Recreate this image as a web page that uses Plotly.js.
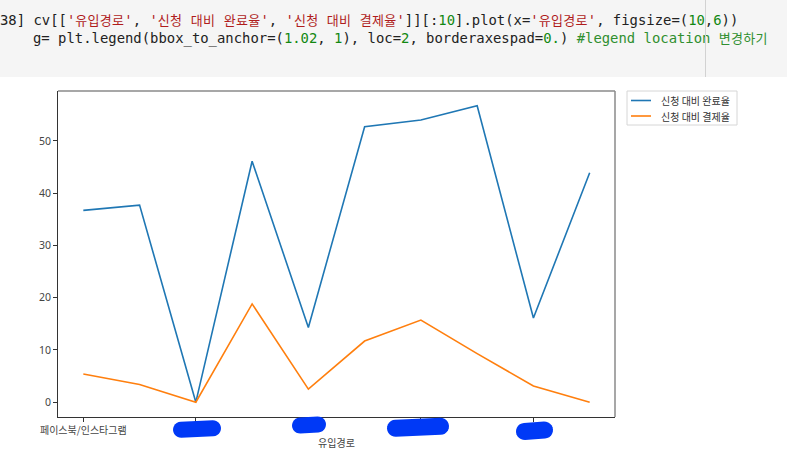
<!DOCTYPE html>
<html>
<head>
<meta charset="utf-8">
<script src="https://cdn.plot.ly/plotly-3.0.1.min.js"></script>
<style>
  html, body { margin: 0; padding: 0; background: #fff; width: 787px; height: 466px; overflow: hidden; }
  #code { position: absolute; left: 0; top: 0; width: 787px; height: 77px; background: #f5f5f5;
          font-family: "DejaVu Sans Mono", monospace; font-size: 13.9px; color: #222; }
  #code .ln { position: absolute; white-space: pre; line-height: 18px; }
  #code .k { font-family: "Noto Sans CJK KR", sans-serif; font-size: 13px; letter-spacing: 0.3px; }
  #code .s { color: #b01c1c; }
  #code .n { color: #118811; }
  #code .c { color: #2f8f2f; }
  #cursor { position: absolute; left: 705px; top: 0; width: 1px; height: 77px; background: #d2d2d2; }
  #chart { position: absolute; left: 0; top: 77px; width: 787px; height: 389px; }
</style>
</head>
<body>
<div id="code">
  <div class="ln" style="left:0px; top:11px;">38] cv[[<span class="s">'<span class="k">유입경로</span>'</span>, <span class="s">'<span class="k">신청</span> <span class="k">대비</span> <span class="k">완료율</span>'</span>, <span class="s">'<span class="k">신청</span> <span class="k">대비</span> <span class="k">결제율</span>'</span>]][:<span class="n">10</span>].plot(x=<span class="s">'<span class="k">유입경로</span>'</span>, figsize=(<span class="n">10</span>,<span class="n">6</span>))</div>
  <div class="ln" style="left:33px; top:29px;">g= plt.legend(bbox_to_anchor=(<span class="n">1.02</span>, <span class="n">1</span>), loc=<span class="n">2</span>, borderaxespad=<span class="n">0.</span>) <span class="c">#legend location <span class="k">변경하기</span></span></div>
  <div id="cursor"></div>
</div>
<div id="chart"></div>
<script>
// ---- data ----
const xIndex = [0, 1, 2, 3, 4, 5, 6, 7, 8, 9];
const completionRate = [36.7, 37.7, 0.0, 46.1, 14.3, 52.7, 54.0, 56.7, 16.1, 43.9];
const paymentRate    = [5.4, 3.4, 0.0, 18.8, 2.5, 11.7, 15.7, 9.3, 3.1, 0.0];
const seriesNames = ['신청 대비 완료율', '신청 대비 결제율'];
const seriesColors = ['#1f77b4', '#ff7f0e'];
const tickVals = [0, 2, 4, 6, 8];
const tickLabels = ['페이스북/인스타그램', '', '', '', ''];
const yTickVals = [0, 10, 20, 30, 40, 50];

// ---- geometry helpers for frame, legend box and redaction marks (page pixels -> paper) ----
const PL = 58, PW = 557, PT = 14, PH = 326; // inside chart div
const CHART_TOP = 77;
function toPaperX(X) { return (X - PL) / PW; }
function toPaperY(Y) { return (PT + PH - (Y - CHART_TOP)) / PH; }
function stadium(x0, x1, yl, yr, h) {
  const r = h / 2, pts = [];
  const ang = Math.atan2(yr - yl, x1 - x0);
  const ax = x0 + r, bx = x1 - r;
  const ay = yl + (yr - yl) * (r / (x1 - x0)), by = yr - (yr - yl) * (r / (x1 - x0));
  for (let i = 0; i <= 12; i++) { const t = ang - Math.PI / 2 + Math.PI * i / 12; pts.push([bx + r * Math.cos(t), by + r * Math.sin(t)]); }
  for (let i = 0; i <= 12; i++) { const t = ang + Math.PI / 2 + Math.PI * i / 12; pts.push([ax + r * Math.cos(t), ay + r * Math.sin(t)]); }
  return 'M' + pts.map(p => toPaperX(p[0]).toFixed(5) + ',' + toPaperY(p[1]).toFixed(5)).join('L') + 'Z';
}
const blobs = [
  [173, 221, 430, 428, 16],
  [292, 326, 426, 424, 16],
  [387, 449, 428.5, 426, 17],
  [516, 553, 432, 429.5, 17]
];
const LEG = { x0: 627, x1: 737, y0: 91, y1: 125, rows: [100.5, 116], lx0: 631, lx1: 651, tx: 659 };

const traces = [
  { x: xIndex, y: completionRate, name: seriesNames[0], type: 'scatter', mode: 'lines',
    line: { color: seriesColors[0], width: 1.6 } },
  { x: xIndex, y: paymentRate, name: seriesNames[1], type: 'scatter', mode: 'lines',
    line: { color: seriesColors[1], width: 1.6 } }
];

const shapes = [
  { type: 'line', xref: 'paper', yref: 'paper', x0: 0, x1: 1, y0: 1, y1: 1, line: { color: '#8a8a8a', width: 1.5 } },
  { type: 'line', xref: 'paper', yref: 'paper', x0: 1, x1: 1, y0: 0, y1: 1, line: { color: '#8a8a8a', width: 1.5 } },
  { type: 'rect', xref: 'paper', yref: 'paper', x0: toPaperX(LEG.x0), x1: toPaperX(LEG.x1), y0: toPaperY(LEG.y1), y1: toPaperY(LEG.y0),
    line: { color: '#d6d6d6', width: 1 }, fillcolor: '#fff' }
].concat(seriesNames.map((n, i) => ({ type: 'line', xref: 'paper', yref: 'paper',
    x0: toPaperX(LEG.lx0), x1: toPaperX(LEG.lx1), y0: toPaperY(LEG.rows[i]), y1: toPaperY(LEG.rows[i]),
    line: { color: seriesColors[i], width: 1.6 } })))
 .concat(blobs.map(b => ({ type: 'path', xref: 'paper', yref: 'paper', path: stadium(b[0], b[1], b[2], b[3], b[4]),
  fillcolor: '#0039f6', line: { width: 0 }, layer: 'above' })));

const annotations = seriesNames.map((n, i) => ({ xref: 'paper', yref: 'paper', x: toPaperX(LEG.tx), y: toPaperY(LEG.rows[i]),
  xanchor: 'left', yanchor: 'middle', text: n, showarrow: false,
  font: { size: 10, color: '#333', family: '"Noto Sans CJK KR", sans-serif' } }));

const layout = {
  width: 787, height: 389,
  margin: { l: PL, r: 787 - PL - PW, t: PT, b: 389 - PT - PH, pad: 0 },
  paper_bgcolor: 'rgba(0,0,0,0)', plot_bgcolor: '#fff',
  font: { family: '"Noto Sans CJK KR", "Noto Sans", sans-serif', color: '#444' },
  showlegend: false,
  xaxis: { range: [-0.45, 9.45], tickmode: 'array', tickvals: tickVals, ticktext: tickLabels,
    showgrid: false, zeroline: false, showline: true, linecolor: '#333', linewidth: 1,
    ticks: 'outside', ticklen: 4, tickcolor: '#333', tickwidth: 1,
    tickfont: { size: 10, color: '#444', family: '"Noto Sans CJK KR", sans-serif' },
    title: { text: '유입경로', font: { size: 10, color: '#444' }, standoff: 3 }, automargin: false },
  yaxis: { range: [-2.835, 59.535], tickmode: 'array', tickvals: yTickVals,
    showgrid: false, zeroline: false, showline: true, linecolor: '#333', linewidth: 1,
    ticks: 'outside', ticklen: 4, tickcolor: '#333', tickwidth: 1,
    tickfont: { size: 10.5, color: '#444', family: '"Noto Sans", sans-serif' }, automargin: false },
  shapes: shapes,
  annotations: annotations
};

Plotly.newPlot('chart', traces, layout, { displayModeBar: false, staticPlot: true });
</script>
</body>
</html>
